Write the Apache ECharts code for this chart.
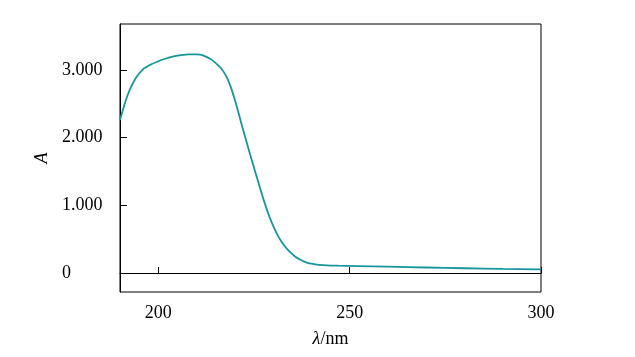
<!DOCTYPE html>
<html>
<head>
<meta charset="utf-8">
<script src="https://cdn.jsdelivr.net/npm/echarts@6/dist/echarts.min.js"></script>
<style>html,body{margin:0;padding:0;background:#fff;}#c{width:635px;height:357px;}</style>
</head>
<body>
<div id="c"></div>
<script>
const wavelength = [190, 192, 194, 196, 198, 200, 202, 204, 206, 208, 210, 212, 214, 216, 217, 218, 219, 220, 221, 222, 223, 224, 225, 226, 227, 228, 229, 230, 231, 232, 233, 234, 235, 236, 237, 238, 239, 240, 241, 242, 244, 247, 252, 260, 270, 280, 290, 300];
const absorbance = [2.26, 2.63, 2.87, 3.01, 3.08, 3.13, 3.17, 3.20, 3.22, 3.23, 3.23, 3.21, 3.15, 3.05, 2.98, 2.88, 2.74, 2.56, 2.36, 2.15, 1.95, 1.75, 1.56, 1.37, 1.18, 1.00, 0.84, 0.70, 0.58, 0.48, 0.40, 0.335, 0.28, 0.235, 0.20, 0.172, 0.152, 0.138, 0.128, 0.121, 0.114, 0.109, 0.103, 0.094, 0.082, 0.071, 0.061, 0.053];
const xTicks = [200, 250, 300];
const yTicks = [0, 1, 2, 3];

const font = 'Liberation Serif';
const chart = echarts.init(document.getElementById('c'), null, {renderer: 'canvas'});
chart.setOption({
  animation: false,
  backgroundColor: '#fff',
  grid: {left: 120, right: 94, top: 24, bottom: 65, show: true, borderColor: '#000', borderWidth: 1, backgroundColor: 'transparent'},
  xAxis: {
    type: 'value', min: 190, max: 300,
    name: '{i|λ}/nm', nameLocation: 'middle', nameGap: 38,
    nameTextStyle: {fontFamily: font, fontSize: 18, color: '#000', rich: {i: {fontFamily: font, fontSize: 18, fontStyle: 'italic', color: '#000'}}},
    axisLine: {show: true, lineStyle: {color: '#000', width: 1}},
    axisTick: {show: true, inside: true, length: 6, customValues: xTicks, lineStyle: {color: '#000'}},
    axisLabel: {customValues: xTicks, fontFamily: font, fontSize: 18, color: '#000', margin: 12},
    splitLine: {show: false}
  },
  yAxis: {
    type: 'value', min: -0.28, max: 3.68,
    name: 'A', nameLocation: 'middle', nameGap: 68, nameRotate: 90,
    nameTextStyle: {fontFamily: font, fontSize: 18, fontStyle: 'italic', color: '#000'},
    axisLine: {show: true, lineStyle: {color: '#000', width: 1}},
    axisTick: {show: true, inside: true, length: 7, customValues: yTicks, lineStyle: {color: '#000'}},
    axisLabel: {customValues: yTicks, fontFamily: font, fontSize: 18, color: '#000', align: 'left', margin: 58,
      formatter: v => v === 0 ? '0' : v.toFixed(3)},
    splitLine: {show: false}
  },
  series: [{
    type: 'line',
    data: wavelength.map((w, i) => [w, absorbance[i]]),
    smooth: 0.3,
    showSymbol: false,
    lineStyle: {color: '#16969a', width: 1.8},
    markLine: {
      silent: true, symbol: 'none', label: {show: false},
      lineStyle: {color: '#000', type: 'solid', width: 1},
      data: [{yAxis: 0}]
    }
  }]
});
</script>
</body>
</html>
